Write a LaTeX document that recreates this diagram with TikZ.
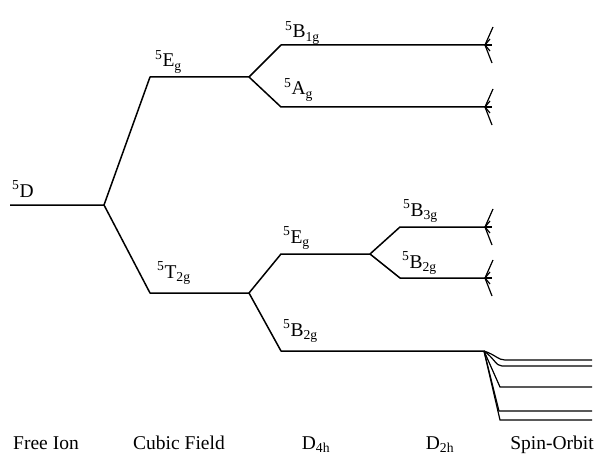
\documentclass[tikz,border=0pt]{standalone}
\usepackage{fontspec}
\setmainfont{Liberation Serif}
\newcommand{\trm}[2]{\textsuperscript{5}#1\textsubscript{#2}}
\begin{document}
\begin{tikzpicture}[x=1pt,y=-1pt,
  lvl/.style={line width=1.5pt, line join=round},
  so/.style={line width=1.2pt},
  lab/.style={font=\fontsize{19.5}{22}\selectfont, inner sep=0pt, anchor=base west},
  axl/.style={font=\fontsize{19.5}{22}\selectfont, inner sep=0pt, anchor=base}]
\useasboundingbox (0,0) rectangle (595,460);
% free ion
\coordinate (d0) at (10,205);
\coordinate (d1) at (104,205);
% cubic
\coordinate (e0) at (150,77);  \coordinate (e1) at (249,77);
\coordinate (t0) at (150,293); \coordinate (t1) at (249,293);
% D4h from Eg
\coordinate (b1a) at (281,45);  \coordinate (b1b) at (485,45);
\coordinate (aga) at (281,107); \coordinate (agb) at (485,107);
% D4h from T2g
\coordinate (eea) at (281,254); \coordinate (eeb) at (370,254);
\coordinate (b2a) at (281,351); \coordinate (b2b) at (484,351);
% D2h
\coordinate (b3a) at (400,227); \coordinate (b3b) at (485,227);
\coordinate (b2c) at (400,278); \coordinate (b2d) at (485,278);

\draw[lvl] (d0) -- (d1) -- (e0) -- (e1);
\draw[lvl] (d1) -- (t0) -- (t1);
\draw[lvl] (e1) -- (b1a) -- (b1b);
\draw[lvl] (e1) -- (aga) -- (agb);
\draw[lvl] (t1) -- (eea) -- (eeb);
\draw[lvl] (t1) -- (b2a) -- (b2b);
\draw[lvl] (eeb) -- (b3a) -- (b3b);
\draw[lvl] (eeb) -- (b2c) -- (b2d);

% spin-orbit fans
\foreach \c in {b1b,agb,b3b,b2d}{
  \draw[so] (\c) -- ++(8,-18);
  \draw[so] (\c) -- ++(5,-6);
  \draw[so] (\c) -- ++(7,0);
  \draw[so] (\c) -- ++(5,6);
  \draw[so] (\c) -- ++(7,18);
}
\coordinate (s1) at (592,360);
\coordinate (s2) at (592,366);
\coordinate (s3) at (592,387);
\coordinate (s4) at (592,411);
\coordinate (s5) at (592,420);
\draw[so] (b2b) .. controls (496,355) and (498,360) .. (505,360) -- (s1);
\draw[so] (b2b) .. controls (494,358) and (496,366) .. (502,366) -- (s2);
\draw[so] (b2b) -- (500,387) -- (s3);
\draw[so] (b2b) -- (499,411) -- (s4);
\draw[so] (b2b) -- (500,420) -- (s5);

% labels
\node[lab] (l5d) at (12,197) {\textsuperscript{5}D};
\node[lab] (l5e) at (155,67) {\trm{E}{g}};
\node[lab] (l5t) at (157,278) {\trm{T}{2g}};
\node[lab] (lb1) at (285,38) {\trm{B}{1g}};
\node[lab] (lag) at (284,95) {\trm{A}{g}};
\node[lab] (lee) at (283,243) {\trm{E}{g}};
\node[lab] (lb2) at (283,336) {\trm{B}{2g}};
\node[lab] (lb3) at (403,216) {\trm{B}{3g}};
\node[lab] (lb2b) at (402,268) {\trm{B}{2g}};

\node[axl] (x1) at (46,449) {Free Ion};
\node[axl] (x2) at (179,449) {Cubic Field};
\node[axl] (x3) at (316,449) {D\textsubscript{4h}};
\node[axl] (x4) at (440,449) {D\textsubscript{2h}};
\node[axl] (x5) at (552,449) {Spin-Orbit};
\end{tikzpicture}
\end{document}
